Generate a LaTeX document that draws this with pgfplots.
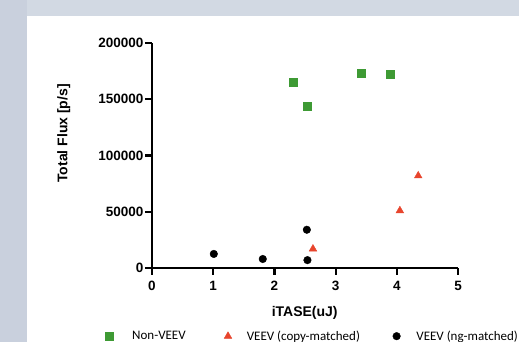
\documentclass[border=0pt]{standalone}
\usepackage{fontspec}
\setmainfont{Liberation Sans}
\newfontfamily\legfont{Carlito}
\usepackage{pgfplots}
\pgfplotsset{compat=1.18}
\definecolor{bgblue}{HTML}{C9D0DD}
\definecolor{bgtop}{HTML}{D2D9E3}
\definecolor{mgreen}{HTML}{3E9A34}
\definecolor{mred}{HTML}{E8452D}
\begin{document}
\begin{tikzpicture}
\useasboundingbox (0pt,0pt) rectangle (519pt,342pt);
\fill[bgblue] (0pt,0pt) rectangle (519pt,342pt);
\fill[bgtop] (27pt,326pt) rectangle (519pt,342pt);
\fill[white] (27pt,0pt) rectangle (519pt,326pt);
\begin{axis}[
  at={(152pt,74pt)}, anchor=south west,
  scale only axis, width=306pt, height=225pt,
  xmin=0, xmax=5, ymin=0, ymax=200000,
  axis x line=bottom, axis y line=left,
  axis line style={-, line width=2.2pt, black},
  every tick/.style={line width=2.2pt, black},
  tick align=outside, major tick length=7pt,
  xtick={0,1,2,3,4,5},
  ytick={0,50000,100000,150000,200000},
  minor tick num=0,
  scaled y ticks=false,
  clip=false,
  /pgf/number format/assume math mode=true,
  yticklabel style={/pgf/number format/fixed, /pgf/number format/1000 sep={}, font=\fontsize{13.5}{15}\selectfont\bfseries, inner sep=1.5pt},
  xticklabel style={font=\fontsize{13.5}{15}\selectfont\bfseries, inner sep=2pt, yshift=-4pt},
  xlabel={iTASE(uJ)},
  ylabel={Total Flux [p/s]},
  xlabel style={font=\fontsize{14}{16}\selectfont\bfseries, at={(axis description cs:0.499,-0.2)}, anchor=center},
  ylabel style={font=\fontsize{14}{16}\selectfont\bfseries, at={(axis description cs:-0.288,0.598)}, anchor=center, rotate=0},
  legend columns=3,
  legend style={at={(axis description cs:-0.1536,-0.303)}, anchor=west, draw=none, fill=none, inner sep=0pt, column sep=0pt,
    nodes={inner sep=0pt, anchor=west, font=\fontsize{13}{15}\selectfont\legfont}},
  legend image code/.code={\draw[mark repeat=1] plot coordinates {(0pt,0pt)};},
]
\addplot[only marks, mark=square*, mark size=4pt, color=mgreen] coordinates {
  (2.30,165000) (2.54,144000) (3.42,173000) (3.89,172000)
};
\addlegendentry{\makebox[111pt][l]{\hspace*{19pt}Non-VEEV}}
\addplot[only marks, mark=triangle*, mark size=4.4pt, color=mred] coordinates {
  (2.63,17000) (4.05,51000) (4.35,82000)
};
\addlegendentry{\makebox[161pt][l]{\hspace*{15pt}VEEV (copy-matched)}}
\addplot[only marks, mark=*, mark size=3.8pt, color=black] coordinates {
  (1.01,12500) (1.81,8000) (2.53,34000) (2.54,7000)
};
\addlegendentry{\makebox[100pt][l]{\hspace*{16pt}VEEV (ng-matched)}}
\end{axis}
\end{tikzpicture}
\end{document}
